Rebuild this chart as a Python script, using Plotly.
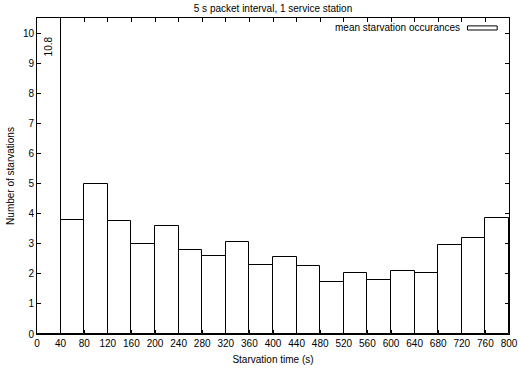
import plotly.graph_objects as go

bin_starts = [0, 40, 80, 120, 160, 200, 240, 280, 320, 360, 400, 440, 480, 520, 560, 600, 640, 680, 720, 760]
bin_width = 40
starvations = [10.8, 3.8, 5.0, 3.75, 3.0, 3.6, 2.78, 2.6, 3.05, 2.3, 2.55, 2.25, 1.74, 2.04, 1.8, 2.09, 2.04, 2.95, 3.2, 3.85]
x_ticks = list(range(0, 801, 40))
y_ticks = list(range(0, 11))
title = "5 s packet interval, 1 service station"
legend_label = "mean starvation occurances"

centers = [s + bin_width / 2 for s in bin_starts]

fig = go.Figure()
fig.add_trace(go.Bar(
    x=centers, y=starvations, width=bin_width,
    marker=dict(color="white", line=dict(color="black", width=1)),
    showlegend=False, cliponaxis=True,
))

font = dict(family="Liberation Sans, Arial, sans-serif", size=10, color="black")

# clipped bar value label
fig.add_annotation(x=centers[0], y=9.55, xref="x", yref="y", text=f"{starvations[0]}",
                   textangle=-90, showarrow=False, font=font)

# legend drawn manually (gnuplot-style wide swatch)
fig.add_annotation(x=0.901, y=0.969, xref="paper", yref="paper", text=legend_label,
                   showarrow=False, xanchor="right", yanchor="middle", font=font)
fig.add_shape(type="rect", xref="paper", yref="paper", x0=0.912, x1=0.975, y0=0.962, y1=0.975,
              line=dict(color="black", width=1), fillcolor="white")

axis_common = dict(showline=True, linecolor="black", linewidth=1, mirror="ticks",
                   ticks="inside", ticklen=4, tickcolor="black", tickwidth=1,
                   showgrid=False, zeroline=False, tickfont=font, automargin=False)

fig.update_layout(
    template="none",
    width=519, height=370,
    margin=dict(l=37, r=10, t=18, b=36, autoexpand=False),
    paper_bgcolor="white", plot_bgcolor="white",
    bargap=0,
    title=dict(text=title, x=0.526, xanchor="center", y=0.978, yanchor="middle", font=font),
    xaxis=dict(range=[0, 800], tickvals=x_ticks, ticktext=[str(v) for v in x_ticks],
               title=dict(text="Starvation time (s)", font=font, standoff=7), **axis_common),
    yaxis=dict(range=[0, 10.5], tickvals=y_ticks, ticktext=[str(v) for v in y_ticks],
               title=dict(text="Number of starvations", font=font, standoff=6), **axis_common),
    font=font,
)

fig.write_html("out.html")
